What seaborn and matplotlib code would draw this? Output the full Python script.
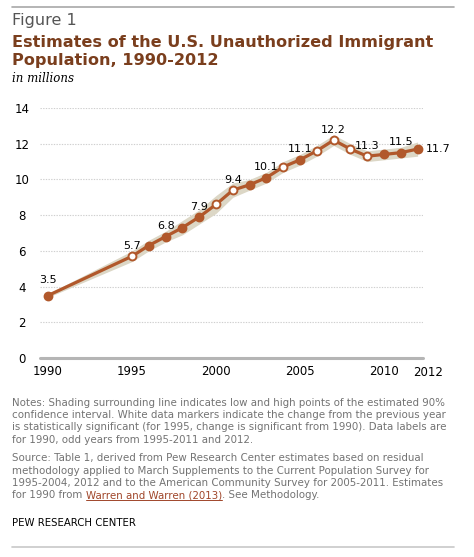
"""
Pew Research Center: estimates of the U.S. unauthorized immigrant population, 1990-2012
"""

import pandas as pd
import matplotlib
matplotlib.use("Agg")
import matplotlib.pyplot as plt
import matplotlib.transforms as mtransforms
from matplotlib.lines import Line2D
import seaborn as sns

# Data (millions)
years = [1990, 1995, 1996, 1997, 1998, 1999, 2000, 2001, 2002, 2003,
         2004, 2005, 2006, 2007, 2008, 2009, 2010, 2011, 2012]
population = [3.5, 5.7, 6.3, 6.8, 7.3, 7.9, 8.6, 9.4, 9.7, 10.1,
              10.7, 11.1, 11.6, 12.2, 11.7, 11.3, 11.4, 11.5, 11.7]
ci_low = [3.4, 5.4, 6.0, 6.5, 6.9, 7.5, 8.1, 9.0, 9.4, 9.8,
          10.4, 10.8, 11.3, 11.9, 11.4, 11.0, 11.1, 11.2, 11.3]
ci_high = [3.6, 6.0, 6.6, 7.1, 7.7, 8.3, 9.1, 9.8, 10.0, 10.4,
           11.0, 11.4, 11.9, 12.5, 12.0, 11.6, 11.7, 11.8, 12.1]
significant = [False, True, False, False, False, False, True, True, False, False,
               True, False, True, True, True, True, False, False, False]
labelled_years = [1990, 1995, 1997, 1999, 2001, 2003, 2005, 2007, 2009, 2011, 2012]
x_ticks = [1990, 1995, 2000, 2005, 2010, 2012]
y_ticks = [0, 2, 4, 6, 8, 10, 12, 14]

title_lines = ["Estimates of the U.S. Unauthorized Immigrant",
               "Population, 1990-2012"]
notes_lines = [
    "Notes: Shading surrounding line indicates low and high points of the estimated 90%",
    "confidence interval. White data markers indicate the change from the previous year",
    "is statistically significant (for 1995, change is significant from 1990). Data labels are",
    "for 1990, odd years from 1995-2011 and 2012.",
]
source_lines = [
    "Source: Table 1, derived from Pew Research Center estimates based on residual",
    "methodology applied to March Supplements to the Current Population Survey for",
    "1995-2004, 2012 and to the American Community Survey for 2005-2011. Estimates",
]

df = pd.DataFrame({"year": years, "pop": population, "low": ci_low,
                   "high": ci_high, "sig": significant})

LINE = "#B1582B"
BAND = "#DCD7C6"
TITLE = "#7A3E1D"
GRAY = "#737373"
NOTE_FS = 7.35

W, H = 474, 557
sns.set_style("white")
plt.rcParams["font.family"] = ["DejaVu Sans"]
fig = plt.figure(figsize=(W / 100, H / 100), dpi=100)


def fy(px):
    return 1 - px / H


def fx(px):
    return px / W


# axes placement (pixels: left 40, right 423, y=0 at 358, y=14 at 108)
ax = fig.add_axes([fx(40), fy(358), fx(423 - 40), (358 - 108) / H])
ax.set_xlim(1989.52, 2012.32)
ax.set_ylim(0, 14)

# gridlines
for yv in y_ticks[1:]:
    ax.axhline(yv, color="#cfcfcf", lw=0.8, ls=(0, (1.2, 1.2)), zorder=0)
ax.axhline(0, color="#b5b5b5", lw=2.2, zorder=1, clip_on=False)

ax.fill_between(df["year"], df["low"], df["high"], color=BAND, lw=0, zorder=2)
sns.lineplot(data=df, x="year", y="pop", color=LINE, lw=2.3, ax=ax, zorder=3)
sns.scatterplot(data=df[~df["sig"]], x="year", y="pop", color=LINE, s=32,
                edgecolor=LINE, linewidth=1.4, ax=ax, zorder=4)
sns.scatterplot(data=df[df["sig"]], x="year", y="pop", color="white", s=32,
                edgecolor=LINE, linewidth=1.4, ax=ax, zorder=4)

# data labels
for yr, val in zip(years, population):
    if yr not in labelled_years:
        continue
    if yr == 2012:
        ax.annotate(f"{val:.1f}", (yr, val), xytext=(6, 0), textcoords="offset points",
                    ha="left", va="center", fontsize=8, color="black")
    else:
        dy = 11 if yr == 1990 else 7.5
        ax.annotate(f"{val:.1f}", (yr, val), xytext=(0, dy), textcoords="offset points",
                    ha="center", va="center", fontsize=8, color="black")

for s in ax.spines.values():
    s.set_visible(False)
ax.set_xlabel("")
ax.set_ylabel("")
ax.set_xticks(x_ticks)
ax.set_xticklabels([str(t) for t in x_ticks], fontsize=8.5, color="black")
ax.set_yticks(y_ticks)
ax.set_yticklabels([str(t) for t in y_ticks], fontsize=8.5, color="black")
ax.tick_params(axis="both", length=0)
ax.tick_params(axis="x", pad=5)
ax.tick_params(axis="y", pad=13)
for lab in ax.get_yticklabels():
    lab.set_horizontalalignment("center")
# the 2012 label sits a bit right of its point and lower
lab2012 = ax.get_xticklabels()[-1]
lab2012.set_transform(lab2012.get_transform() +
                      mtransforms.ScaledTranslation(10 / 100, -1 / 100, fig.dpi_scale_trans))

# header
fig.add_artist(Line2D([fx(12), fx(454)], [fy(7), fy(7)], color="#a8a8a8", lw=1.2))
fig.text(fx(12), fy(25), "Figure 1", fontsize=11.5, color="#555555", va="baseline")
for i, line in enumerate(title_lines):
    fig.text(fx(12), fy(46.5 + 19 * i), line, fontsize=11.6, fontweight="bold",
             color=TITLE, va="baseline")
fig.text(fx(12), fy(81.5), "in millions", fontsize=8.5, style="italic",
         family="DejaVu Serif", color="black", va="baseline")

# notes and source
for i, line in enumerate(notes_lines):
    fig.text(fx(12), fy(406 + 12.2 * i), line, fontsize=NOTE_FS, color=GRAY, va="baseline")
for i, line in enumerate(source_lines):
    fig.text(fx(12), fy(461.5 + 12.2 * i), line, fontsize=NOTE_FS, color=GRAY, va="baseline")

renderer = fig.canvas.get_renderer()
yl = fy(461.5 + 12.2 * 3)
t1 = fig.text(fx(12), yl, "for 1990 from ", fontsize=NOTE_FS, color=GRAY, va="baseline")
x1 = t1.get_window_extent(renderer).x1 / W
t2 = fig.text(x1, yl, "Warren and Warren (2013)", fontsize=NOTE_FS, color="#A0462A",
              va="baseline")
bb = t2.get_window_extent(renderer)
fig.add_artist(Line2D([x1, bb.x1 / W], [yl - 1.8 / H, yl - 1.8 / H], color="#A0462A", lw=0.7))
fig.text(bb.x1 / W, yl, ". See Methodology.", fontsize=NOTE_FS, color=GRAY, va="baseline")

fig.text(fx(12), fy(526), "PEW RESEARCH CENTER", fontsize=7.3, color="black", va="baseline")
fig.add_artist(Line2D([fx(12), fx(454)], [fy(547), fy(547)], color="#c8c8c8", lw=1.2))

fig.savefig("out.png", dpi=100)
